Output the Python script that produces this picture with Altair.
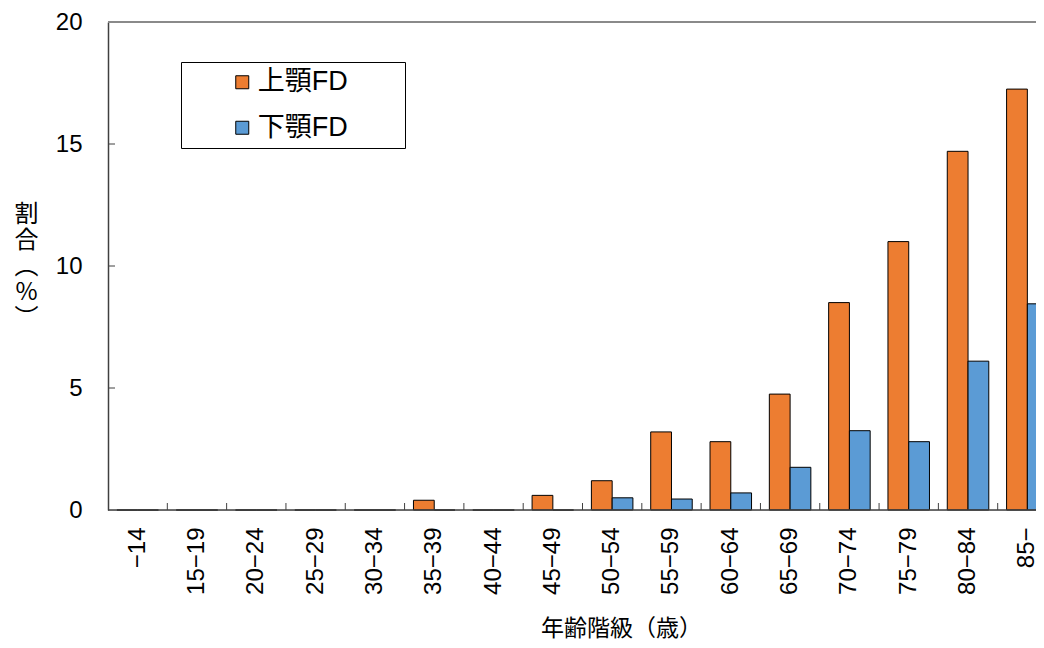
import altair as alt
import pandas as pd

ages = ["−14", "15−19", "20−24", "25−29", "30−34", "35−39", "40−44", "45−49",
        "50−54", "55−59", "60−64", "65−69", "70−74", "75−79", "80−84", "85−"]
upper = [0, 0, 0, 0, 0, 0.4, 0, 0.6, 1.2, 3.2, 2.8, 4.75, 8.5, 11.0, 14.7, 17.25]
lower = [0, 0, 0, 0, 0, 0, 0, 0, 0.5, 0.45, 0.7, 1.75, 3.25, 2.8, 6.1, 8.45]
series = ["上顎FD", "下顎FD"]
colors = ["#ED7D31", "#5B9BD5"]
yticks = [5, 10, 15]

rows = []
for a, u, l in zip(ages, upper, lower):
    rows.append({"age": a, "series": series[0], "v": u})
    rows.append({"age": a, "series": series[1], "v": l})
df = pd.DataFrame(rows)

W, H = 949, 488
JP = "Noto Sans CJK JP"
NUM = "Liberation Sans"
MIX = "Liberation Sans, Noto Sans CJK JP"

yscale = alt.Scale(domain=[0, 20])

bars = alt.Chart(df).mark_bar(stroke="black", strokeWidth=1).encode(
    x=alt.X("age:N", sort=ages,
            scale=alt.Scale(paddingInner=0.3, paddingOuter=0.15),
            axis=alt.Axis(title="年齢階級（歳）", labelAngle=-90, labelFont=NUM,
                          labelFontSize=24, labelColor="black", labelPadding=17,
                          ticks=False, domain=False,
                          titleFont=JP, titleFontSize=23, titleFontWeight="normal",
                          titleColor="black", titleX=513, titleY=118,
                          titleBaseline="middle")),
    xOffset=alt.XOffset("series:N", sort=series),
    y=alt.Y("v:Q", scale=yscale,
            axis=alt.Axis(values=[0, 5, 10, 15, 20], tickSize=0, labelPadding=26,
                          labelFont=NUM, labelFontSize=24, labelColor="black",
                          domainColor="#404040", domainWidth=1.5, grid=False,
                          title=["割", "合", "︵", "%", "︶"], titleAngle=0,
                          titleFont=JP, titleFontSize=24, titleFontWeight="normal",
                          titleColor="black", titleLineHeight=26,
                          titleX=-82, titleY=192, titleBaseline="middle",
                          titleAlign="center")),
    color=alt.Color("series:N", sort=series,
                    scale=alt.Scale(domain=series, range=colors),
                    legend=alt.Legend(title=None, orient="none", legendX=73, legendY=40,
                                      symbolType="square", symbolSize=169,
                                      symbolStrokeColor="black", symbolStrokeWidth=1,
                                      symbolOffset=41,
                                      labelFont=MIX, labelFontSize=27, labelColor="black",
                                      labelOffset=2, rowPadding=17.5, padding=6.75,
                                      labelExpr="datum.label + '\u3164\u3164'",
                                      strokeColor="black", fillColor="white")),
)

# bottom axis line
base_line = alt.Chart(pd.DataFrame({"v": [0]})).mark_rule(color="#404040", strokeWidth=1.5).encode(
    y=alt.Y("v:Q", scale=yscale), x=alt.value(0), x2=alt.value(W))

# top border
top_line = alt.Chart(pd.DataFrame({"v": [20]})).mark_rule(color="#8a8a8a", strokeWidth=2).encode(
    y=alt.Y("v:Q", scale=yscale), x=alt.value(0), x2=alt.value(W))

# inside y ticks
ytick = alt.Chart(pd.DataFrame({"v": yticks})).mark_rule(color="#404040", strokeWidth=1).encode(
    y=alt.Y("v:Q", scale=yscale), x=alt.value(0), x2=alt.value(7))

# inside x ticks at category boundaries
bounds = pd.DataFrame({"b": list(range(1, len(ages)))})
xtick = alt.Chart(bounds).mark_rule(color="#404040", strokeWidth=1).encode(
    x=alt.X("b:Q", scale=alt.Scale(domain=[0, len(ages)]), axis=None),
    y=alt.value(H - 7), y2=alt.value(H))

chart = alt.layer(bars, xtick, ytick, base_line, top_line).resolve_scale(
    x="independent"
).properties(
    width=W, height=H,
    autosize=alt.AutoSizeParams(type="none"),
    padding={"left": 100, "top": 14, "right": -21, "bottom": 130},
).configure_view(stroke=None).configure(background="white")

chart.save("out.html", embed_options={"renderer": "svg", "actions": False})
